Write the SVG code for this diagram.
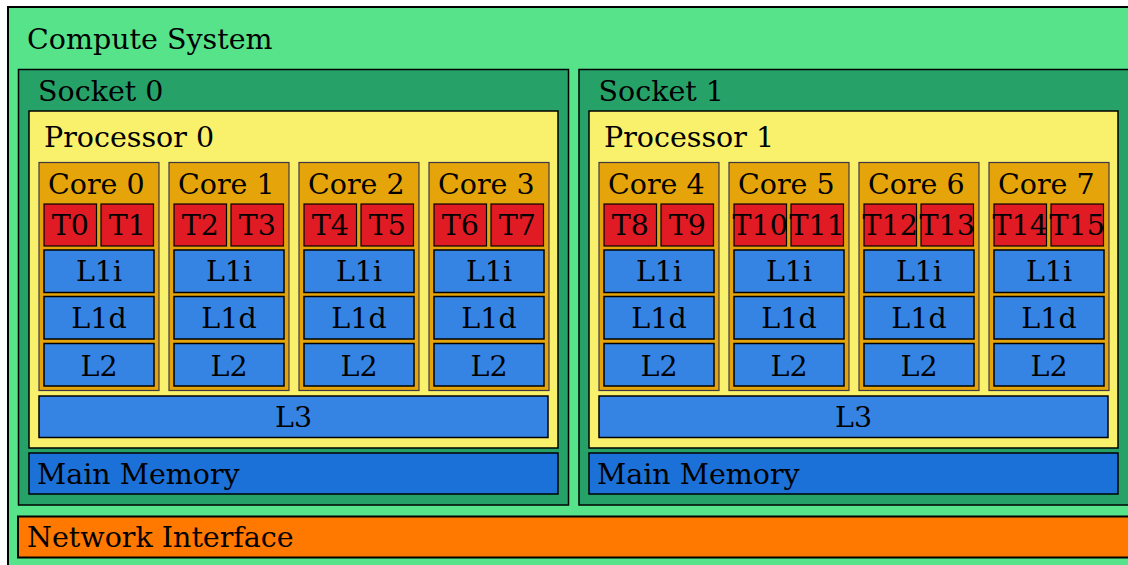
<svg xmlns="http://www.w3.org/2000/svg" width="1128" height="565" viewBox="0 0 1128 565">
  <style>
    text { font-family: "DejaVu Serif", "Liberation Serif", serif; font-size: 28.5px; fill: #000; }
    .c { text-anchor: middle; }
    .system { fill: #57e389; stroke: #000; stroke-width: 2; }
    .socket { fill: #26a269; stroke: #000; stroke-width: 1.5; }
    .proc { fill: #f9f06b; stroke: #000; stroke-width: 1.5; }
    .core { fill: #e5a50a; stroke: #3d3846; stroke-width: 1.2; }
    .thread { fill: #e01b24; stroke: #000; stroke-width: 1.2; }
    .cache { fill: #3584e4; stroke: #000; stroke-width: 1.5; }
    .mem { fill: #1c71d8; stroke: #000; stroke-width: 1.5; }
    .nic { fill: #ff7800; stroke: #000; stroke-width: 2; }
  </style>
  <defs>
    <!-- one core: label, two hardware threads, private caches -->
    <g id="core-frame">
      <rect class="core" x="0" y="0" width="120" height="228"/>
      <rect class="thread" x="5" y="41.5" width="52.5" height="42"/>
      <rect class="thread" x="62" y="41.5" width="52.5" height="42"/>
      <rect class="cache" x="5" y="87.5" width="110" height="42.5"/>
      <text class="c" x="60" y="118">L1i</text>
      <rect class="cache" x="5" y="134" width="110" height="42.5"/>
      <text class="c" x="60" y="165.5">L1d</text>
      <rect class="cache" x="5" y="181" width="110" height="42.5"/>
      <text class="c" x="60" y="213">L2</text>
    </g>
  </defs>

  <g id="compute-system">
    <rect class="system" x="8" y="7" width="1130" height="570"/>
    <text x="27" y="48.5">Compute System</text>
  </g>

  <!-- Socket 0 -->
  <g id="socket-0">
    <rect class="socket" x="18.5" y="69.5" width="550" height="435.5"/>
    <text x="38" y="100.5">Socket 0</text>
  </g>
  <g id="processor-0">
    <rect class="proc" x="29" y="111" width="529" height="337"/>
    <text x="44" y="147">Processor 0</text>
  </g>
  <g id="core-0" transform="translate(39 162.5)">
    <use href="#core-frame"/>
    <text x="9" y="31">Core 0</text>
    <text class="c" x="31.25" y="72.5">T0</text>
    <text class="c" x="88.25" y="72.5">T1</text>
  </g>
  <g id="core-1" transform="translate(169 162.5)">
    <use href="#core-frame"/>
    <text x="9" y="31">Core 1</text>
    <text class="c" x="31.25" y="72.5">T2</text>
    <text class="c" x="88.25" y="72.5">T3</text>
  </g>
  <g id="core-2" transform="translate(299 162.5)">
    <use href="#core-frame"/>
    <text x="9" y="31">Core 2</text>
    <text class="c" x="31.25" y="72.5">T4</text>
    <text class="c" x="88.25" y="72.5">T5</text>
  </g>
  <g id="core-3" transform="translate(429 162.5)">
    <use href="#core-frame"/>
    <text x="9" y="31">Core 3</text>
    <text class="c" x="31.25" y="72.5">T6</text>
    <text class="c" x="88.25" y="72.5">T7</text>
  </g>
  <g id="l3-0">
    <rect class="cache" x="39" y="396" width="509" height="41.5"/>
    <text class="c" x="293.5" y="427">L3</text>
  </g>
  <g id="memory-0">
    <rect class="mem" x="29" y="453" width="529" height="41"/>
    <text x="37" y="483.5">Main Memory</text>
  </g>

  <!-- Socket 1 -->
  <g id="socket-1">
    <rect class="socket" x="579" y="69.5" width="550" height="435.5"/>
    <text x="598.5" y="100.5">Socket 1</text>
  </g>
  <g id="processor-1">
    <rect class="proc" x="589" y="111" width="529" height="337"/>
    <text x="604" y="147">Processor 1</text>
  </g>
  <g id="core-4" transform="translate(599 162.5)">
    <use href="#core-frame"/>
    <text x="9" y="31">Core 4</text>
    <text class="c" x="31.25" y="72.5">T8</text>
    <text class="c" x="88.25" y="72.5">T9</text>
  </g>
  <g id="core-5" transform="translate(729 162.5)">
    <use href="#core-frame"/>
    <text x="9" y="31">Core 5</text>
    <text class="c" x="31.25" y="72.5">T10</text>
    <text class="c" x="88.25" y="72.5">T11</text>
  </g>
  <g id="core-6" transform="translate(859 162.5)">
    <use href="#core-frame"/>
    <text x="9" y="31">Core 6</text>
    <text class="c" x="31.25" y="72.5">T12</text>
    <text class="c" x="88.25" y="72.5">T13</text>
  </g>
  <g id="core-7" transform="translate(989 162.5)">
    <use href="#core-frame"/>
    <text x="9" y="31">Core 7</text>
    <text class="c" x="31.25" y="72.5">T14</text>
    <text class="c" x="88.25" y="72.5">T15</text>
  </g>
  <g id="l3-1">
    <rect class="cache" x="599" y="396" width="509" height="41.5"/>
    <text class="c" x="853.5" y="427">L3</text>
  </g>
  <g id="memory-1">
    <rect class="mem" x="589" y="453" width="529" height="41"/>
    <text x="597" y="483.5">Main Memory</text>
  </g>

  <g id="network-interface">
    <rect class="nic" x="18" y="516.5" width="1120" height="41"/>
    <text x="27" y="547">Network Interface</text>
  </g>

  <!-- no connectors: containment only -->
  <g id="connectors"/>
</svg>
